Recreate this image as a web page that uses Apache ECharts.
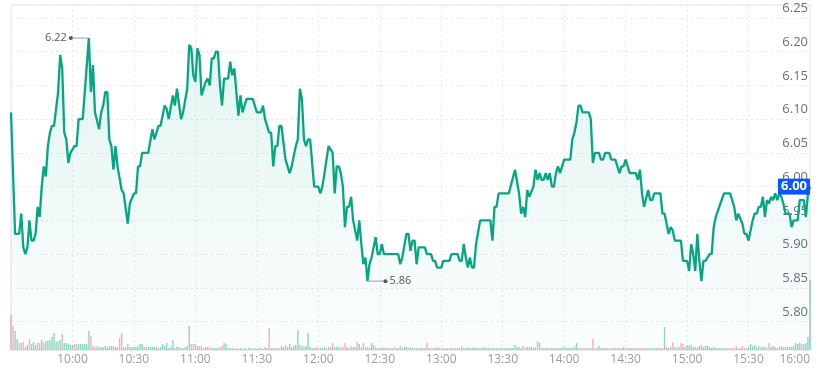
<!DOCTYPE html>
<html><head><meta charset="utf-8">
<script src="https://cdn.jsdelivr.net/npm/echarts@6/dist/echarts.min.js"></script>
<style>html,body{margin:0;padding:0;background:#fff}#c{width:828px;height:370px}</style>
</head><body><div id="c"></div>
<script>
// minutes after 09:30 open
const priceMinutes = [0,2,4,5,6,7,8,9,10,11,12,13,14,15,16,17,18,19,20,21,23,24,25,26,27,28,29,31,32,33,35,36,38,39,40,41,43,44,45,46,47,48,49,50,51,52,54,55,57,58,60,61,62,63,64,67,69,70,72,73,75,76,77,79,80,81,83,84,86,87,88,89,90,91,92,93,95,96,97,98,99,100,101,102,103,104,106,107,108,109,111,112,113,115,118,120,122,123,124,126,127,128,129,130,131,132,134,136,137,139,140,141,142,143,144,145,146,148,150,151,152,154,155,157,158,159,160,161,162,163,164,165,166,167,169,170,171,172,173,174,175,176,178,179,180,181,182,189,190,191,193,194,195,196,197,198,199,202,203,205,206,207,208,210,211,214,215,218,219,220,221,222,223,224,225,226,227,229,234,235,236,237,238,243,246,248,249,250,251,252,253,255,256,257,258,259,260,261,262,263,264,265,266,267,268,270,273,274,275,276,277,278,279,282,283,284,285,287,288,289,290,292,293,295,297,298,299,300,301,302,305,306,307,308,309,311,312,313,314,317,318,319,320,321,322,323,324,327,328,330,331,332,333,334,335,336,337,338,339,341,342,343,344,348,351,353,354,355,357,358,359,360,362,363,364,365,366,367,368,369,370,371,372,373,374,375,376,377,378,380,381,382,384,385,387,388,389,390];
const prices = [6.11,5.93,5.93,5.96,5.91,5.90,5.91,5.95,5.92,5.92,5.93,5.97,5.955,6.00,6.03,6.015,6.06,6.08,6.09,6.09,6.14,6.195,6.175,6.08,6.07,6.035,6.05,6.06,6.06,6.10,6.10,6.14,6.22,6.14,6.18,6.11,6.085,6.11,6.12,6.14,6.14,6.07,6.06,6.025,6.06,6.03,5.995,5.99,5.945,5.975,5.99,5.99,6.03,6.03,6.05,6.05,6.085,6.07,6.09,6.09,6.12,6.115,6.10,6.135,6.12,6.145,6.10,6.11,6.145,6.21,6.205,6.165,6.155,6.205,6.195,6.135,6.155,6.16,6.15,6.19,6.19,6.20,6.20,6.15,6.12,6.16,6.16,6.185,6.165,6.175,6.105,6.135,6.11,6.13,6.13,6.11,6.11,6.12,6.10,6.08,6.08,6.03,6.06,6.06,6.09,6.09,6.04,6.02,6.03,6.06,6.07,6.145,6.13,6.07,6.06,6.07,6.07,6.00,6.00,5.99,6.00,6.04,6.06,6.05,5.99,6.03,6.03,6.02,6.00,5.94,5.97,5.97,5.985,5.95,5.92,5.95,5.915,5.885,5.895,5.86,5.885,5.895,5.925,5.90,5.90,5.915,5.90,5.90,5.885,5.895,5.93,5.93,5.905,5.92,5.92,5.885,5.91,5.91,5.90,5.90,5.89,5.89,5.88,5.88,5.89,5.89,5.90,5.90,5.89,5.89,5.915,5.895,5.88,5.895,5.88,5.88,5.915,5.95,5.95,5.92,5.97,5.97,5.99,5.99,6.025,5.99,5.96,5.97,5.955,5.995,5.985,6.00,6.025,6.01,6.02,6.01,6.01,6.02,6.01,6.02,6.00,6.00,6.02,6.03,6.02,6.04,6.04,6.07,6.08,6.095,6.12,6.12,6.11,6.11,6.10,6.035,6.05,6.05,6.04,6.04,6.05,6.05,6.04,6.04,6.02,6.03,6.03,6.04,6.03,6.02,6.02,6.01,6.025,5.99,5.97,5.995,5.98,5.98,5.99,5.99,5.96,5.96,5.945,5.93,5.94,5.935,5.92,5.92,5.89,5.89,5.875,5.915,5.90,5.875,5.93,5.89,5.86,5.89,5.89,5.90,5.90,5.94,5.955,5.99,5.99,5.97,5.95,5.96,5.945,5.93,5.93,5.92,5.95,5.96,5.96,5.97,5.97,5.985,5.955,5.98,5.975,5.985,5.98,5.99,5.98,5.99,5.985,5.975,5.96,5.96,5.94,5.95,5.95,5.98,5.98,5.955,5.99,6.00];
// per-minute volume (thousand shares), 09:30 .. 16:00
const volumes = [
35,24,19,11,7,7,8,3,5,11,
6,8,5,7,7,10,7,9,9,10,
13,17,8,9,10,16,7,7,6,5,
5,6,6,6,6,6,6,6,19,14,
4,3,4,3,3,3,4,3,4,4,
4,3,3,12,17,3,3,6,3,3,
3,3,4,6,6,3,3,3,3,3,
3,3,2,3,6,4,7,2,3,10,
2,3,3,2,2,3,4,24,6,6,
6,4,4,4,2,3,3,3,2,2,
2,2,3,4,7,6,2,2,2,1,
2,1,2,1,2,1,2,2,1,2,
1,2,2,1,3,2,22,2,2,2,
2,2,4,3,5,3,6,3,4,5,
20,5,4,3,4,17,3,2,2,3,
2,2,2,3,2,3,3,7,3,3,
3,2,3,7,3,2,4,3,3,8,
6,3,7,3,3,2,7,5,3,2,
2,2,3,2,2,2,2,3,2,2,
4,2,3,3,2,3,2,2,2,2,
2,2,2,7,2,2,2,2,3,2,
2,2,2,2,2,2,2,2,2,2,
4,2,2,3,2,2,3,2,2,2,
2,3,2,2,2,2,2,2,2,2,
2,2,2,2,2,2,5,3,3,2,
4,2,3,3,3,2,3,9,7,2,
2,2,2,2,2,2,2,2,2,2,
3,2,2,2,2,3,7,2,2,2,
2,2,2,2,11,2,2,4,2,2,
2,2,2,2,2,2,2,2,2,3,
2,2,2,2,2,2,2,2,2,2,
2,2,2,2,2,2,2,2,2,23,
3,2,3,8,3,2,3,7,6,3,
5,4,5,3,3,3,4,5,3,4,
4,3,2,3,2,2,2,2,2,2,
2,2,2,2,4,2,2,4,2,2,
3,6,4,5,3,4,3,3,3,2,
7,3,4,3,2,3,4,3,3,3,
3,3,4,7,6,7,6,6,7,13,
70];
// direction of each minute: u = up, d = down
const volumeSides = [
"dduuddduud","uuudduduuu","uuuuuduuuu","udduuuuuud","ddduuuuudu",
"dudddduduu","uuuuuuduuu","uuduuuuduu","duuduuuudd","dudddudduu",
"uudduuuudu","duududuudu","ududduddud","udduduuduu","uuduuuudud",
"duuududduu","udddudddud","udduduuudd","udduddudud","duuududuud",
"udududdudu","dududududu","duuuduuuuu","uududuuudu","uuuduuuuud",
"ududuudduu","udududuuuu","uuduuuudud","dududududu","dudduuddud",
"ududududdu","duduuudddu","duddududdu","uuudududuu","uuuuduuuud",
"duddduddud","uuuuuuduud","duuudddduu","duuuuuduuu","u"
].join('');
const timeLabels = ['10:00','10:30','11:00','11:30','12:00','12:30','13:00','13:30','14:00','14:30','15:00','15:30','16:00'];

const UP_VOL = 'rgba(30,178,138,0.5)';
const DOWN_VOL = 'rgba(240,80,100,0.45)';
const LINE = '#06a682';

const chart = echarts.init(document.getElementById('c'), null, {renderer: 'canvas'});
const priceData = priceMinutes.map((m, i) => [m, prices[i]]);
const volData = volumes.map((v, i) => ({
  value: [i, v],
  itemStyle: {color: volumeSides[i] === 'd' ? DOWN_VOL : UP_VOL}
}));
const last = priceData[priceData.length - 1];
const font = '"Open Sans", "Noto Sans", sans-serif';

chart.setOption({
  animation: false,
  backgroundColor: '#ffffff',
  textStyle: {fontFamily: font},
  grid: {left: 11, right: 18, top: 5, bottom: 20, show: true, borderColor: '#e3e5ea', borderWidth: 1},
  xAxis: {
    type: 'value', min: 0, max: 390, interval: 30,
    axisLine: {show: false}, axisTick: {show: false},
    axisLabel: {
      color: '#9a9ca3', fontSize: 12, margin: 4, showMinLabel: false, alignMaxLabel: 'right',
      formatter: v => timeLabels[v / 30 - 1] || ''
    },
    splitLine: {show: true, lineStyle: {color: '#e6e7ea', type: [2, 3], width: 1}}
  },
  yAxis: [{
    type: 'value', position: 'right', min: 5.758, max: 6.269, splitNumber: 10, scale: true,
    axisLine: {show: false}, axisTick: {show: false},
    axisLabel: {
      inside: true, margin: 2, color: '#6b6e75', fontSize: 13, verticalAlign: 'bottom',
      padding: [0, 0, 3, 0], showMinLabel: false, showMaxLabel: false,
      formatter: v => v.toFixed(2)
    },
    splitLine: {show: true, lineStyle: {color: '#e6e7ea', type: [2, 3], width: 1}}
  }, {
    type: 'value', min: 0, max: 345, show: false, splitLine: {show: false}
  }],
  series: [{
    type: 'bar', yAxisIndex: 1, data: volData, barWidth: 1.4, silent: true, z: 1
  }, {
    type: 'line', data: priceData, showSymbol: false, symbol: 'none', z: 3,
    lineStyle: {color: LINE, width: 2.3},
    areaStyle: {
      color: new echarts.graphic.LinearGradient(0, 0, 0, 1, [
        {offset: 0, color: 'rgba(0,168,132,0.16)'},
        {offset: 1, color: 'rgba(0,168,132,0.02)'}
      ])
    },
    markPoint: {
      silent: true,
      animation: false,
      data: [
        {type: 'max', symbol: 'rect', symbolSize: [18, 1], symbolOffset: [-9, 0],
          itemStyle: {color: '#9a9ca3'}, label: {show: false}},
        {type: 'max', symbol: 'circle', symbolSize: 4, symbolOffset: [-18, 0],
          itemStyle: {color: '#55585f'},
          label: {show: true, position: 'left', distance: 2, color: '#55585f', fontSize: 11,
            formatter: p => p.value.toFixed(2)}},
        {type: 'min', symbol: 'rect', symbolSize: [18, 1], symbolOffset: [9, 0],
          itemStyle: {color: '#9a9ca3'}, label: {show: false}},
        {type: 'min', symbol: 'circle', symbolSize: 4, symbolOffset: [18, 0],
          itemStyle: {color: '#55585f'},
          label: {show: true, position: 'right', distance: 2, color: '#55585f', fontSize: 11,
            formatter: p => p.value.toFixed(2)}},
        {coord: last, value: last[1], symbol: 'rect', symbolSize: [32, 16], symbolOffset: [-16, 0],
          itemStyle: {color: '#0b57f5'},
          label: {show: true, position: 'inside', color: '#ffffff', fontSize: 13, fontWeight: 'bold',
            formatter: p => p.value.toFixed(2)}}
      ]
    }
  }]
});
</script>
</body></html>
